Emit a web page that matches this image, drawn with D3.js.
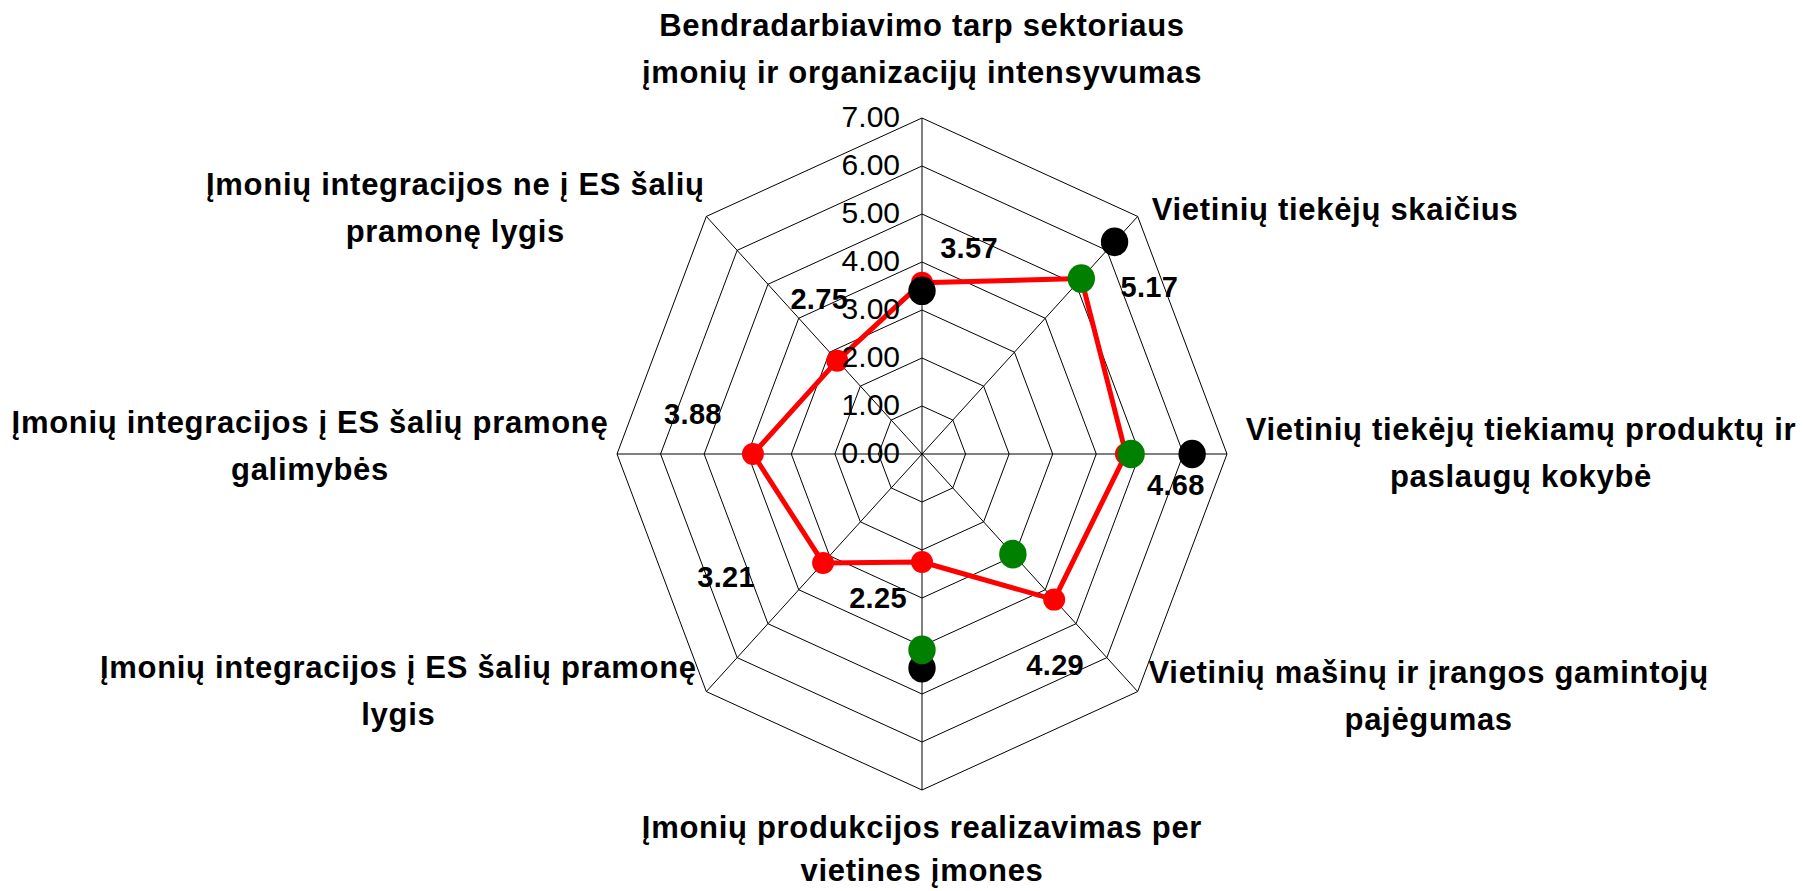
<!DOCTYPE html>
<html>
<head>
<meta charset="utf-8">
<script src="https://d3js.org/d3.v7.min.js"></script>
<style>
  body { margin: 0; background: #fff; }
  text { font-family: "Liberation Sans", Arial, sans-serif; fill: #000; }
</style>
</head>
<body>
<div id="vis"></div>
<script>
// axis labels, clockwise from the top (one entry per line)
const categories = [
  ["Bendradarbiavimo tarp sektoriaus", "įmonių ir organizacijų intensyvumas"],
  ["Vietinių tiekėjų skaičius"],
  ["Vietinių tiekėjų tiekiamų produktų ir", "paslaugų kokybė"],
  ["Vietinių mašinų ir įrangos gamintojų", "pajėgumas"],
  ["Įmonių produkcijos realizavimas per", "vietines įmones"],
  ["Įmonių integracijos į ES šalių pramonę", "lygis"],
  ["Įmonių integracijos į ES šalių pramonę", "galimybės"],
  ["Įmonių integracijos ne į ES šalių", "pramonę lygis"]
];
const redValues = [3.57, 5.17, 4.68, 4.29, 2.25, 3.21, 3.88, 2.75];
const greenValues = [null, 5.17, 4.8, 2.95, 4.08, null, null, null];
const blackValues = [3.4, 6.25, 6.2, null, 4.46, null, null, null];
const tickValues = [0, 1, 2, 3, 4, 5, 6, 7];

// where each category label sits, relative to the outer vertex of its spoke
const labelLayout = [
  {anchor: "middle", dx: 0, dy: -82, lh: 47},
  {anchor: "start", dx: 14, dy: 4, lh: 47},
  {anchor: "middle", dx: 294, dy: -14, lh: 47},
  {anchor: "middle", dx: 291, dy: -9, lh: 47},
  {anchor: "middle", dx: 0, dy: 48, lh: 43},
  {anchor: "middle", dx: -308, dy: -14, lh: 47},
  {anchor: "middle", dx: -307, dy: -21, lh: 47},
  {anchor: "middle", dx: -251, dy: -21, lh: 47}
];
// value label offset from its red point (centre x, baseline)
const valueOffsets = [[47, -25], [68, 18], [50, 41], [1, 75], [-44, 46], [-97, 24], [-60, -30], [-18, -52]];

var width = 1803, height = 891;
var cx = 922, cy = 454;

var svg = d3.select("#vis").append("svg")
  .attr("width", width)
  .attr("height", height);

// the plot is a bit taller than wide
var rx = d3.scaleLinear().domain([0, 7]).range([0, 305]);
var ry = d3.scaleLinear().domain([0, 7]).range([0, 336]);
var angle = d3.scaleLinear().domain([0, categories.length]).range([0, 2 * Math.PI]);

function px(i, v) { return cx + rx(v) * Math.sin(angle(i)); }
function py(i, v) { return cy - ry(v) * Math.cos(angle(i)); }

var grid = svg.append("g");

// rings
tickValues.filter(t => t > 0).forEach(function(t) {
  grid.append("path")
    .attr("d", d3.line()(categories.map((c, i) => [px(i, t), py(i, t)])) + "Z")
    .attr("fill", "none")
    .attr("stroke", "#000")
    .attr("stroke-width", 1);
});

// spokes
categories.forEach(function(c, i) {
  grid.append("line")
    .attr("x1", cx).attr("y1", cy)
    .attr("x2", px(i, 7)).attr("y2", py(i, 7))
    .attr("stroke", "#000")
    .attr("stroke-width", 1);
});

// red series
var redPts = redValues.map((v, i) => [px(i, v), py(i, v)]);
svg.append("path")
  .attr("d", d3.line()(redPts) + "Z")
  .attr("fill", "none")
  .attr("stroke", "#ff0000")
  .attr("stroke-width", 5)
  .attr("stroke-linejoin", "round");

svg.append("g").selectAll("circle")
  .data(redValues)
  .join("circle")
  .attr("cx", (d, i) => px(i, d))
  .attr("cy", (d, i) => py(i, d))
  .attr("r", 11)
  .attr("fill", "#ff0000");

function markers(values, color) {
  svg.append("g").selectAll("ellipse")
    .data(values.map((v, i) => ({v: v, i: i})).filter(d => d.v != null))
    .join("ellipse")
    .attr("cx", d => px(d.i, d.v))
    .attr("cy", d => py(d.i, d.v))
    .attr("rx", 13.7)
    .attr("ry", 14.3)
    .attr("fill", color);
}
markers(blackValues, "#000000");
markers(greenValues, "#008000");

// tick labels up the top spoke
svg.append("g").selectAll("text")
  .data(tickValues)
  .join("text")
  .attr("x", cx - 22)
  .attr("y", d => cy - ry(d) + 9)
  .attr("text-anchor", "end")
  .style("font-size", "30px")
  .text(d3.format(".2f"));

// value labels
svg.append("g").selectAll("text")
  .data(redValues)
  .join("text")
  .attr("x", (d, i) => px(i, d) + valueOffsets[i][0])
  .attr("y", (d, i) => py(i, d) + valueOffsets[i][1])
  .attr("text-anchor", "middle")
  .style("font-size", "29px")
  .style("font-weight", "bold")
  .style("letter-spacing", "0.3px")
  .text(d3.format(".2f"));

// category labels
categories.forEach(function(lines, i) {
  var lay = labelLayout[i];
  var t = svg.append("text")
    .attr("text-anchor", lay.anchor)
    .style("font-size", "31px")
    .style("font-weight", "bold")
    .style("letter-spacing", "0.7px");
  lines.forEach(function(s, k) {
    t.append("tspan")
      .attr("x", px(i, 7) + lay.dx)
      .attr("y", py(i, 7) + lay.dy + k * lay.lh)
      .text(s);
  });
});
</script>
</body>
</html>
